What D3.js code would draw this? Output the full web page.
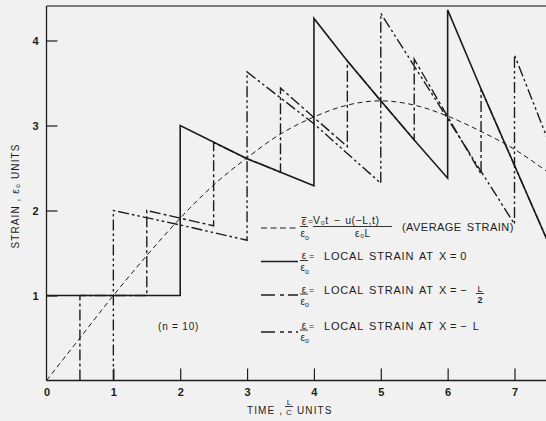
<!DOCTYPE html>
<html>
<head>
<meta charset="utf-8">
<script src="https://cdn.jsdelivr.net/npm/d3@7"></script>
<style>
  html, body { margin: 0; padding: 0; background: #f1f1f1; }
  svg { display: block; }
  text { font-family: "Liberation Sans", Arial, sans-serif; fill: #1c1c1c; }
</style>
</head>
<body>
<script>
// ---------- data ----------
const xTicks = [0, 1, 2, 3, 4, 5, 6, 7];
const yTicks = [1, 2, 3, 4];

// average strain (short dashes)
const avgT = [0, 0.5, 1, 1.5, 2, 2.5, 3, 3.5, 4, 4.5, 5, 5.5, 6, 6.5, 7, 7.5];
const avgV = [0, 0.5, 1.0, 1.47, 1.91, 2.3, 2.62, 2.9, 3.1, 3.24, 3.29, 3.24, 3.11, 2.93, 2.72, 2.45];

// local strain at X = 0 (solid)
const x0T = [0, 2, 2, 3, 4, 4, 4.5, 5, 5.5, 6, 6, 6.5, 7, 7.5];
const x0V = [1, 1, 3.0, 2.61, 2.29, 4.26, 3.76, 3.29, 2.83, 2.38, 4.36, 3.43, 2.53, 1.63];

// local strain at X = -L/2 (long-short dashes)
const xHalfT = [0.5, 0.5, 1.5, 1.5, 2.5, 2.5, 3, 3.5, 3.5, 4.5, 4.5, 5, 5.5, 5.5, 6.5, 6.5, 7, 7.5];
const xHalfV = [0, 1, 1, 2.0, 1.82, 2.8, 2.61, 2.45, 3.44, 2.75, 3.76, 3.29, 2.83, 3.78, 2.43, 3.43, 2.53, 1.63];

// local strain at X = -L (long-short-short dashes)
const xLT = [1, 1, 2, 3, 3, 4, 5, 5, 7, 7, 7.5];
const xLV = [0, 2.0, 1.83, 1.65, 3.63, 3.02, 2.32, 4.32, 1.84, 3.83, 2.83];

// ---------- drawing ----------
const W = 546, H = 421;
const ink = "#1c1c1c";
const svg = d3.select("body").append("svg").attr("width", W).attr("height", H);
svg.append("rect").attr("width", W).attr("height", H).attr("fill", "#f1f1f1");

const x = d3.scaleLinear().domain([0, 7]).range([46.5, 514.5]);
const y = d3.scaleLinear().domain([0, 4]).range([380.5, 40.5]);

const pLeft = 46.5, pRight = W, pTop = 6, pBottom = 380.5;

svg.append("defs").append("clipPath").attr("id", "plot")
  .append("rect").attr("x", pLeft).attr("y", pTop).attr("width", pRight - pLeft).attr("height", pBottom - pTop + 1);

const zip = (a, b) => a.map((t, i) => [t, b[i]]);
const line = d3.line().x(d => x(d[0])).y(d => y(d[1]));
const smooth = d3.line().x(d => x(d[0])).y(d => y(d[1])).curve(d3.curveMonotoneX);

const plot = svg.append("g").attr("clip-path", "url(#plot)");

const series = [
  { t: avgT, v: avgV, dash: "5,3.5", w: 1.0, gen: smooth },
  { t: x0T, v: x0V, dash: null, w: 1.6, gen: line },
  { t: xHalfT, v: xHalfV, dash: "11,3,3,3", w: 1.4, gen: line },
  { t: xLT, v: xLV, dash: "11,3,2.5,3,2.5,3", w: 1.4, gen: line }
];
series.forEach(s => {
  plot.append("path")
    .attr("d", s.gen(zip(s.t, s.v)))
    .attr("fill", "none")
    .attr("stroke", ink)
    .attr("stroke-width", s.w)
    .attr("stroke-linejoin", "miter")
    .attr("stroke-dasharray", s.dash);
});

// frame lines
svg.append("line").attr("x1", pLeft).attr("x2", pRight).attr("y1", pTop).attr("y2", pTop)
  .attr("stroke", "#555").attr("stroke-width", 1.3);
svg.append("line").attr("x1", pLeft).attr("x2", pLeft).attr("y1", pTop).attr("y2", pBottom)
  .attr("stroke", ink).attr("stroke-width", 1.3);
svg.append("line").attr("x1", pLeft).attr("x2", pRight).attr("y1", pBottom).attr("y2", pBottom)
  .attr("stroke", ink).attr("stroke-width", 1.4);

// axes
const xAxis = svg.append("g").attr("transform", `translate(0,${pBottom})`)
  .call(d3.axisBottom(x).tickValues(xTicks).tickSize(-12).tickPadding(8).tickFormat(d3.format("d")));
const yAxis = svg.append("g").attr("transform", `translate(${pLeft},0)`)
  .call(d3.axisLeft(y).tickValues(yTicks).tickSize(-11).tickPadding(8).tickFormat(d3.format("d")));
[xAxis, yAxis].forEach(a => {
  a.select(".domain").remove();
  a.selectAll(".tick line").attr("stroke", ink).attr("stroke-width", 1.2);
  a.selectAll(".tick text").attr("fill", ink)
    .style("font-family", "'Liberation Sans', Arial, sans-serif")
    .style("font-size", "11px").style("font-weight", "bold");
});
xAxis.selectAll(".tick").filter(d => d === 0).select("line").remove();

// axis titles
const ls = "1.1px";
svg.append("text").attr("transform", "translate(19,196) rotate(-90)")
  .attr("text-anchor", "middle").style("font-size", "10px").style("letter-spacing", ls)
  .text("STRAIN , ε\u2080 UNITS");

const xt = svg.append("g");
xt.append("text").attr("x", 247).attr("y", 414).style("font-size", "10px").style("letter-spacing", ls).text("TIME ,");
xt.append("text").attr("x", 289).attr("y", 405).attr("text-anchor", "middle").style("font-size", "8px").text("L");
xt.append("line").attr("x1", 285).attr("x2", 293).attr("y1", 406.5).attr("y2", 406.5).attr("stroke", ink).attr("stroke-width", 0.9);
xt.append("text").attr("x", 289).attr("y", 414.5).attr("text-anchor", "middle").style("font-size", "8px").text("C");
xt.append("text").attr("x", 297).attr("y", 414).style("font-size", "10px").style("letter-spacing", ls).text("UNITS");

svg.append("text").attr("x", 158).attr("y", 330).style("font-size", "10px").style("letter-spacing", "0.8px").text("(n = 10)");

// ---------- legend ----------
const leg = svg.append("g");
function sample(yc, dash, w) {
  leg.append("line").attr("x1", 261).attr("x2", 298).attr("y1", yc).attr("y2", yc)
    .attr("stroke", ink).attr("stroke-width", w).attr("stroke-dasharray", dash);
}
function epsFrac(yc, bar) {
  const nb = yc - 3;
  leg.append("text").attr("x", 304).attr("y", nb).attr("text-anchor", "middle").style("font-size", "10px").text("ε");
  if (bar) leg.append("line").attr("x1", 301.5).attr("x2", 306.5).attr("y1", nb - 7.5).attr("y2", nb - 7.5).attr("stroke", ink).attr("stroke-width", 0.9);
  leg.append("line").attr("x1", 300).attr("x2", 308).attr("y1", nb + 1.5).attr("y2", nb + 1.5).attr("stroke", ink).attr("stroke-width", 0.9);
  const d = leg.append("text").attr("x", 300.5).attr("y", nb + 12).style("font-size", "10px").text("ε");
  d.append("tspan").attr("dy", 2.5).style("font-size", "7px").text("o");
}
function ltext(xp, yb, s, size, spacing) {
  return leg.append("text").attr("x", xp).attr("y", yb)
    .style("font-size", (size || 11) + "px")
    .style("letter-spacing", (spacing == null ? 0.8 : spacing) + "px")
    .style("word-spacing", "1.5px")
    .text(s);
}

// row 1: average strain
sample(228, "6,3.5", 1.2);
epsFrac(228, true);
ltext(308, 224, "=", 9, 0);
ltext(313, 223.5, "V\u2080t \u2212 u(\u2212L,t)", 10.5, 0.5);
leg.append("line").attr("x1", 313).attr("x2", 392).attr("y1", 226.5).attr("y2", 226.5).attr("stroke", ink).attr("stroke-width", 0.9);
ltext(355, 236.5, "ε\u2080L", 10, 0.5);
ltext(402, 231, "(AVERAGE STRAIN)", 11, 0.45);

// row 2: X = 0
sample(261.5, null, 1.5);
epsFrac(262, false);
ltext(309, 259, "=", 9, 0);
ltext(324, 260, "LOCAL STRAIN AT X\u2009=\u20090");

// row 3: X = -L/2
sample(295, "14,5,4,4,14", 1.3);
epsFrac(295.5, false);
ltext(309, 292.5, "=", 9, 0);
ltext(324, 293.5, "LOCAL STRAIN AT X\u2009=\u2009\u2212");
leg.append("text").attr("x", 480).attr("y", 292).attr("text-anchor", "middle").style("font-size", "9px").text("L");
leg.append("line").attr("x1", 476).attr("x2", 484).attr("y1", 293.5).attr("y2", 293.5).attr("stroke", ink).attr("stroke-width", 0.9);
leg.append("text").attr("x", 480).attr("y", 302.5).attr("text-anchor", "middle").style("font-size", "9px").style("font-weight", "bold").text("2");

// row 4: X = -L
sample(332, "14,5,4,4,4,4", 1.3);
epsFrac(331.5, false);
ltext(309, 328.5, "=", 9, 0);
ltext(324, 329.5, "LOCAL STRAIN AT X\u2009=\u2009\u2212 L");
</script>
</body>
</html>
